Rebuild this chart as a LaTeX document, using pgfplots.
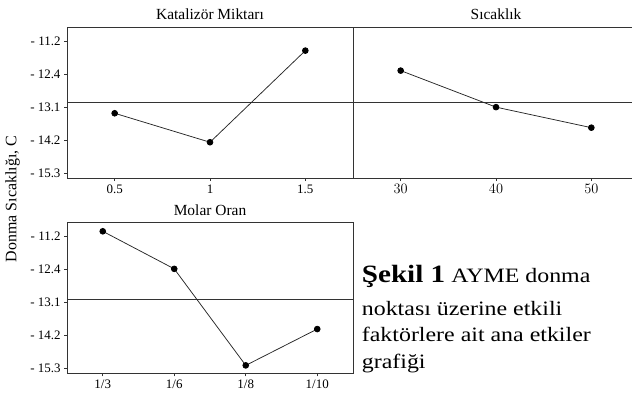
\documentclass[border=0pt]{standalone}
\usepackage{fontspec}
\setmainfont{Liberation Serif}
\newfontfamily\capfont[FakeStretch=1.17]{Liberation Serif}
\newfontfamily\sansticks{Carlito}
\usepackage{pgfplots}
\pgfplotsset{compat=1.18}

\definecolor{frame}{HTML}{333333}

\pgfplotsset{
  effect/.style={
    scale only axis, width=286bp, height=151bp, anchor=north west,
    ymin=-4.14, ymax=0.42,
    ytick={0,-1,-2,-3,-4},
    yticklabels={- 11.2,- 12.4,- 13.1,- 14.2,- 15.3},
    tick align=outside, tick pos=left, major tick length=3bp,
    axis line style={frame, line width=0.9pt},
    every tick/.style={frame, line width=0.8pt},
    tick label style={font=\fontsize{13}{15}\selectfont},
    title style={font=\fontsize{15.5}{18}\selectfont, yshift=-2bp},
  },
  meanline/.style={frame, line width=0.8pt, forget plot},
  effectline/.style={black!85, line width=0.75pt, mark=*, mark size=2.9bp,
    mark options={fill=black, draw=black}},
}

\begin{document}
\begin{tikzpicture}[x=1bp,y=1bp]
\useasboundingbox (0,0) rectangle (632,-399);

% Katalizör miktarı
\begin{axis}[effect, at={(67bp,-27bp)},
  title={Katalizör Miktarı},
  xmin=0.25, xmax=1.75, xtick={0.5,1,1.5},
  xticklabels={0.5,1,1.5}]
  \addplot[meanline] coordinates {(0.25,-1.87) (1.75,-1.87)};
  \addplot[effectline] coordinates {(0.5,-2.185) (1,-3.06) (1.5,-0.293)};
\end{axis}

% Sıcaklık
\begin{axis}[effect, at={(353bp,-27bp)},
  title={Sıcaklık},
  xmin=25, xmax=55, xtick={30,40,50},
  ytick=\empty, yticklabels={},
  xticklabel style={font=\sansticks\fontsize{15}{17}\selectfont}]
  \addplot[meanline] coordinates {(25,-1.87) (55,-1.87)};
  \addplot[effectline] coordinates {(30,-0.897) (40,-2.0) (50,-2.62)};
\end{axis}

% Molar oran
\begin{axis}[effect, at={(67bp,-222.7bp)}, height=150.6bp,
  title={Molar Oran},
  xmin=-0.5, xmax=3.5, xtick={0,1,2,3},
  xticklabels={1/3,1/6,1/8,1/10}]
  \addplot[meanline] coordinates {(-0.5,-1.89) (3.5,-1.89)};
  \addplot[effectline] coordinates {(0,0.16) (1,-0.977) (2,-3.90) (3,-2.80)};
\end{axis}

\node[rotate=90, font=\fontsize{16}{18}\selectfont] at (12.5,-199) {Donma Sıcaklığı, C};

\node[anchor=base west, inner sep=0, font=\capfont\fontsize{20.5}{24}\selectfont]
  at (361.7,-282.5) {{\bfseries\fontsize{25}{28}\selectfont Şekil 1} AYME donma};
\node[anchor=base west, inner sep=0, font=\capfont\fontsize{20.5}{24}\selectfont]
  at (361.7,-315) {noktası üzerine etkili};
\node[anchor=base west, inner sep=0, font=\capfont\fontsize{20.5}{24}\selectfont]
  at (361.7,-341.7) {faktörlere ait ana etkiler};
\node[anchor=base west, inner sep=0, font=\capfont\fontsize{20.5}{24}\selectfont]
  at (361.7,-368.3) {grafiği};
\end{tikzpicture}
\end{document}
